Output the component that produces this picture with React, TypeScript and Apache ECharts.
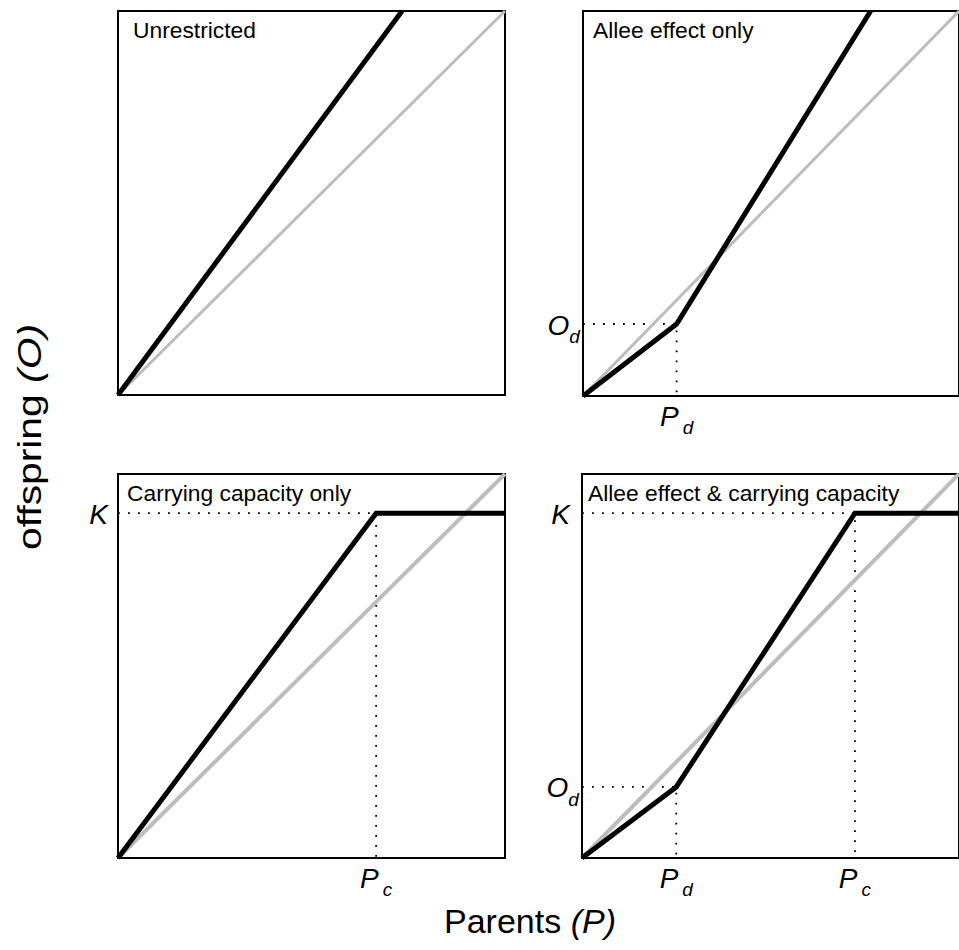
import React, { useEffect, useRef } from "react";
import * as echarts from "echarts";

// ---- data (normalised units, 0..1 on both axes) ----
const diagonal: number[][] = [[0, 0], [1, 1]];
const unrestricted: number[][] = [[0, 0], [0.734, 1]];
const Pd = 0.249;
const Od = 0.187;
const PdBR = 0.25;
const OdBR = 0.185;
const K = 0.898;
const PcBL = 0.667;
const PcBR = 0.724;
const alleeOnly: number[][] = [[0, 0], [Pd, Od], [0.765, 1]];
const carryingOnly: number[][] = [[0, 0], [PcBL, K], [1, K]];
const alleeCarrying: number[][] = [[0, 0], [PdBR, OdBR], [PcBR, K], [1, K]];
const panelTitles = ["Unrestricted", "Allee effect only", "Carrying capacity only", "Allee effect & carrying capacity"];

const FONT = "'Liberation Sans', Arial, Helvetica, sans-serif";

const rich = {
  b: { fontSize: 28, fontStyle: "italic", fontFamily: FONT, color: "#000", lineHeight: 30, verticalAlign: "bottom" },
  s: { fontSize: 19, fontStyle: "italic", fontFamily: FONT, color: "#000", lineHeight: 30, verticalAlign: "bottom", padding: [0, 0, -7, 4] },
  so: { fontSize: 19, fontStyle: "italic", fontFamily: FONT, color: "#000", lineHeight: 30, verticalAlign: "bottom", padding: [0, 0, -7, 0] },
};

function guide(idx: number, x: number, y: number, leftText: string, bottomText: string, leftDist: number) {
  return {
    type: "line",
    xAxisIndex: idx,
    yAxisIndex: idx,
    showSymbol: true,
    symbol: "circle",
    symbolSize: 0.1,
    z: 1,
    silent: true,
    lineStyle: { color: "#000", width: 1.8, type: [1.8, 8.2], cap: "butt" },
    itemStyle: { color: "#000" },
    data: [
      { value: [0, y], label: { show: true, position: "left", distance: leftDist, formatter: leftText, rich } },
      { value: [x, y], label: { show: false } },
      { value: [x, 0], label: { show: true, position: "bottom", distance: 4, formatter: bottomText, rich } },
    ],
  };
}

function grayLine(idx: number, w: number) {
  return {
    type: "line", xAxisIndex: idx, yAxisIndex: idx, showSymbol: false, z: 2, silent: true,
    lineStyle: { color: "#bdbdbd", width: w }, data: diagonal,
  };
}
function blackLine(idx: number, d: number[][]) {
  return {
    type: "line", xAxisIndex: idx, yAxisIndex: idx, showSymbol: false, z: 3, silent: true,
    lineStyle: { color: "#000", width: 5, join: "miter" }, data: d,
  };
}

export default function App() {
  const ref = useRef<HTMLDivElement>(null);
  useEffect(() => {
    if (!ref.current) return;
    const chart = echarts.init(ref.current, null, { renderer: "svg" });
    const grids = [
      { left: 118, top: 11, width: 387, height: 384 },
      { left: 583, top: 11, width: 387, height: 385 },
      { left: 118, top: 474, width: 387, height: 384 },
      { left: 582, top: 474, width: 387, height: 384 },
    ].map((g) => ({ ...g, show: true, borderColor: "#000", borderWidth: 2, backgroundColor: "transparent", containLabel: false }));
    const axisBase = { type: "value", min: 0, max: 1, axisLine: { show: false }, axisTick: { show: false }, axisLabel: { show: false }, splitLine: { show: false } };
    const titlePos = [[133, 30], [593, 30], [127, 493], [588, 493]];
    chart.setOption({
      animation: false,
      backgroundColor: "#fff",
      grid: grids,
      xAxis: grids.map((_, i) => ({ ...axisBase, gridIndex: i })),
      yAxis: grids.map((_, i) => ({ ...axisBase, gridIndex: i })),
      series: [
        grayLine(0, 3), blackLine(0, unrestricted),
        grayLine(1, 3), guide(1, Pd, Od, "{b|O}{so|d}", "{b|P}{s|d}", 3), blackLine(1, alleeOnly),
        grayLine(2, 4), guide(2, PcBL, K, "{b|K}", "{b|P}{s|c}", 10), blackLine(2, carryingOnly),
        grayLine(3, 4), guide(3, PdBR, OdBR, "{b|O}{so|d}", "{b|P}{s|d}", 3), guide(3, PcBR, K, "{b|K}", "{b|P}{s|c}", 12), blackLine(3, alleeCarrying),
      ],
      graphic: [
        ...panelTitles.map((t, i) => ({
          type: "text", x: titlePos[i][0], y: titlePos[i][1], z: 10,
          style: { text: t, fontSize: 22.8, fontFamily: FONT, fill: "#000", align: "left", verticalAlign: "middle" },
        })),
        {
          type: "text", x: 29, y: 437, rotation: Math.PI / 2, scaleX: 1.2, z: 10,
          style: {
            text: "{n|offspring }{i|(O)}", align: "center", verticalAlign: "middle",
            rich: {
              n: { fontSize: 34, fontFamily: FONT, fill: "#000" },
              i: { fontSize: 34, fontFamily: FONT, fontStyle: "italic", fill: "#000" },
            },
          },
        },
        {
          type: "text", x: 530, y: 921, z: 10,
          style: {
            text: "{n|Parents }{i|(P)}", align: "center", verticalAlign: "middle",
            rich: {
              n: { fontSize: 34, fontFamily: FONT, fill: "#000" },
              i: { fontSize: 34, fontFamily: FONT, fontStyle: "italic", fill: "#000" },
            },
          },
        },
      ],
    });
    return () => chart.dispose();
  }, []);
  return <div ref={ref} style={{ position: "absolute", left: 0, top: 0, width: 959, height: 950 }} />;
}
